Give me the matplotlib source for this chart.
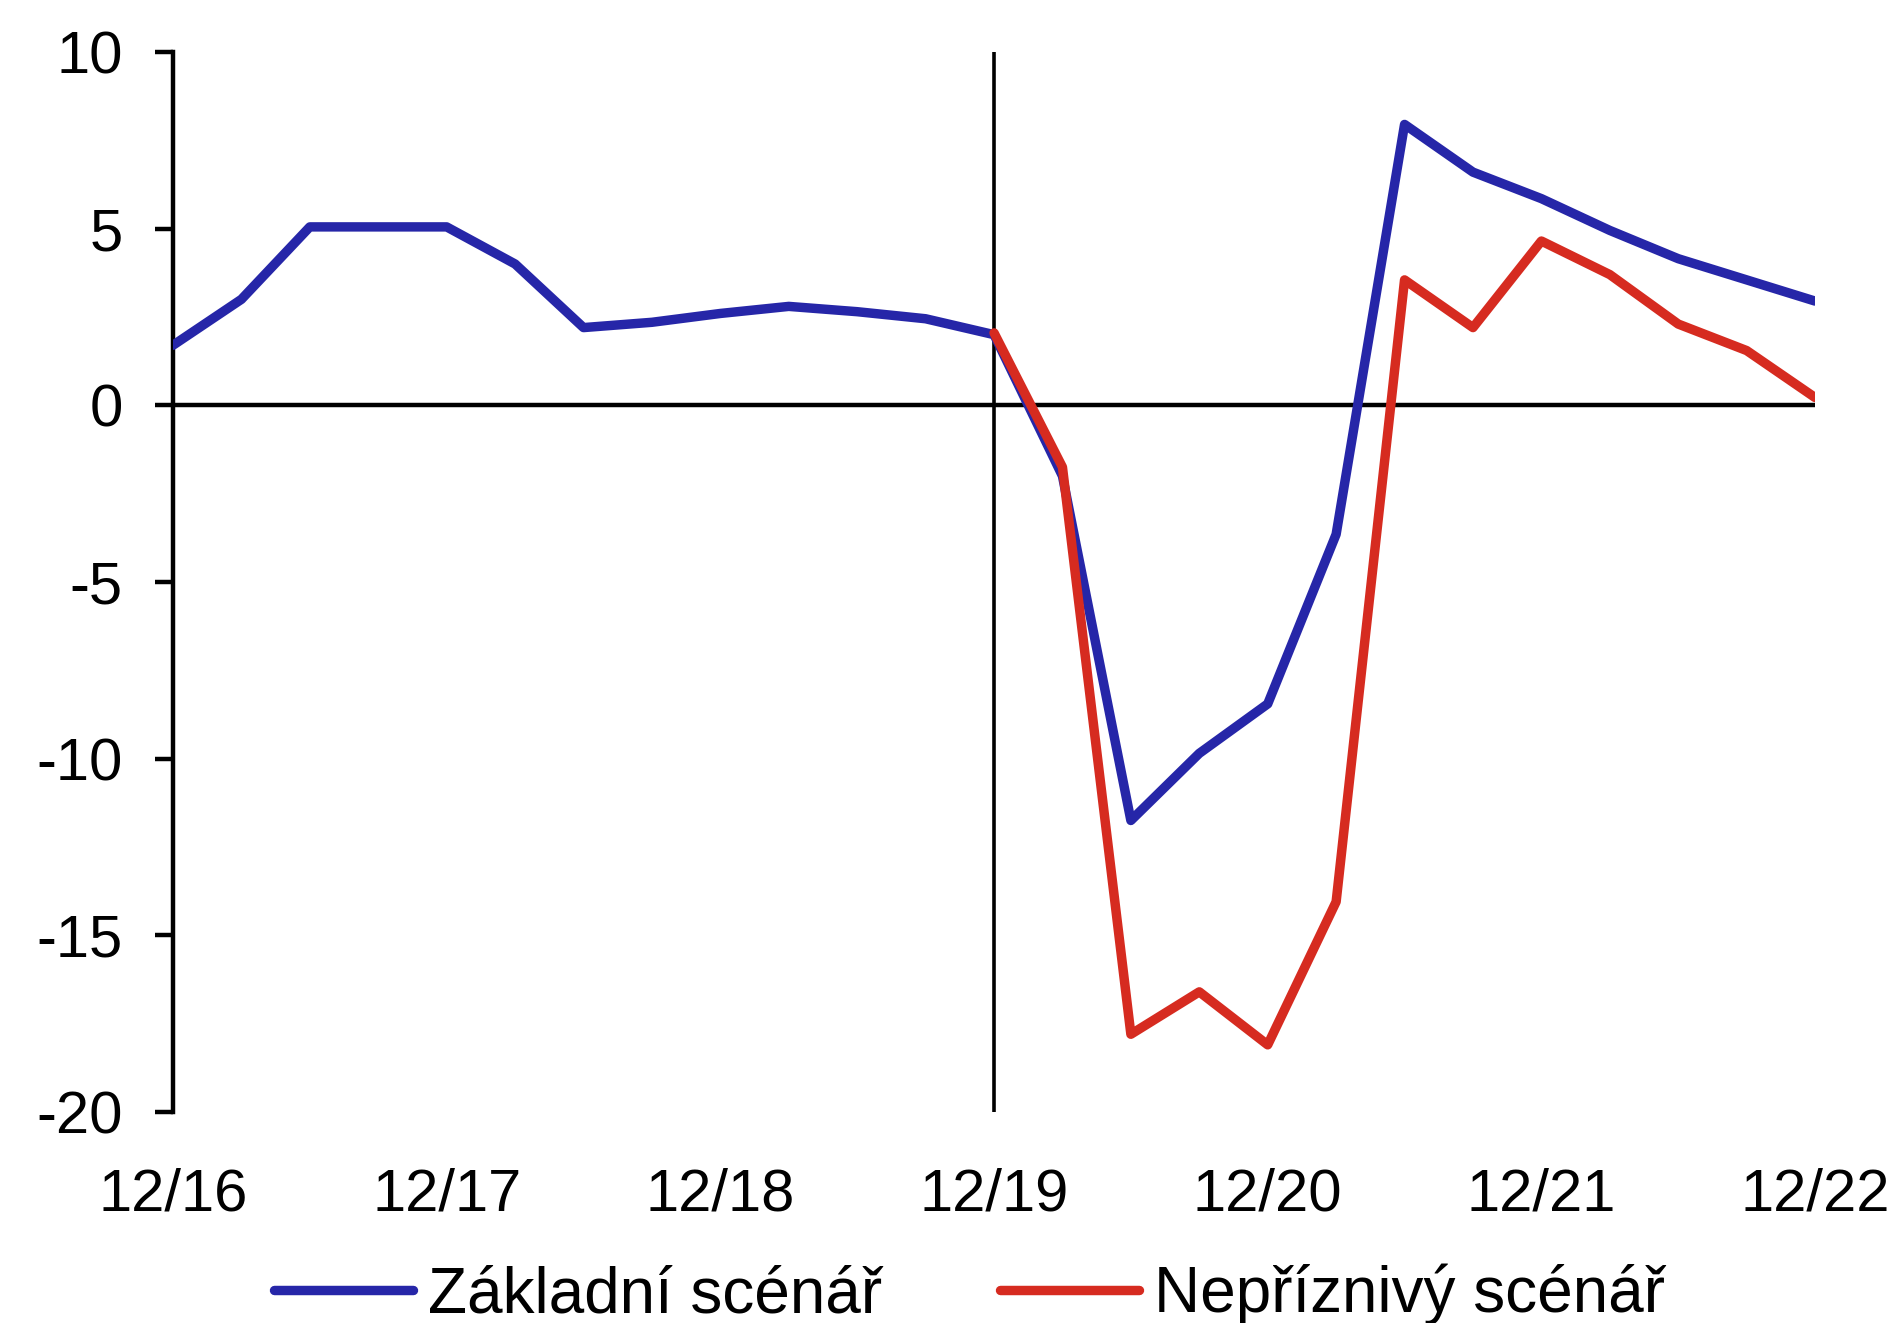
import matplotlib
matplotlib.use("Agg")
import matplotlib.pyplot as plt

plt.rcParams["font.family"] = ["Liberation Sans", "DejaVu Sans"]
plt.rcParams["axes.unicode_minus"] = False

# quarterly values, 12/16 .. 12/22
quarters = list(range(25))
tick_labels = ["12/16", "12/17", "12/18", "12/19", "12/20", "12/21", "12/22"]

zakladni = [1.7, 3.0, 5.05, 5.05, 5.05, 4.0, 2.2, 2.35, 2.6, 2.8, 2.65, 2.45,
            2.0, -2.0, -11.75, -9.85, -8.45, -3.65, 7.95, 6.6, 5.85, 4.95,
            4.15, 3.55, 2.95]

# adverse scenario starts at the last actual quarter (12/19)
neprizn_x = quarters[12:]
neprizn = [2.05, -1.75, -17.8, -16.6, -18.1, -14.05, 3.55, 2.2, 4.65,
           3.7, 2.3, 1.55, 0.22]

blue = "#2626A8"
red = "#D62B20"

fig = plt.figure(figsize=(19.01, 13.23), dpi=100)
ax = fig.add_axes([0.091, 0.1595, 0.8638, 0.8012])

ax.plot(quarters, zakladni, color=blue, lw=6.8, solid_capstyle="round",
        solid_joinstyle="round", label="Základní scénář", zorder=3)
ax.plot(neprizn_x, neprizn, color=red, lw=6.8, solid_capstyle="round",
        solid_joinstyle="round", label="Nepříznivý scénář", zorder=4)

ax.axhline(0, color="black", lw=3.2, zorder=2)
ax.axvline(12, color="black", lw=2.6, zorder=2)

ax.set_xlim(0, 24)
ax.set_ylim(-20, 10)
ax.set_yticks([10, 5, 0, -5, -10, -15, -20])
ax.set_xticks(range(0, 25, 4))
ax.set_xticklabels(tick_labels)

for side in ["top", "right", "bottom"]:
    ax.spines[side].set_visible(False)
ax.spines["left"].set_linewidth(3.2)

ax.tick_params(axis="y", labelsize=43, length=13, width=3.2, pad=23)
ax.tick_params(axis="x", labelsize=43, length=0, pad=40)

ax.legend(loc="center", bbox_to_anchor=(0.485, -0.172), ncol=2,
          frameon=False, fontsize=46, handlelength=2.18, handletextpad=0.23,
          columnspacing=1.84, borderaxespad=0, borderpad=0)

fig.savefig("out.png", dpi=100)
